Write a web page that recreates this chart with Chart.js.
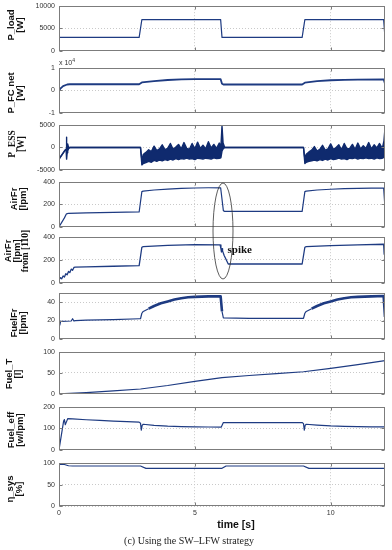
<!DOCTYPE html>
<html><head><meta charset="utf-8">
<script src="https://cdn.jsdelivr.net/npm/chart.js@4.4.0/dist/chart.umd.min.js"></script>
<style>
html,body{margin:0;padding:0;background:#fff;}
body{width:392px;height:550px;position:relative;overflow:hidden;}
canvas{position:absolute;left:0;}
.yl{position:absolute;transform:translate(-50%,-50%) rotate(-90deg);font:bold 9.5px "Liberation Sans",Arial,sans-serif;line-height:8.5px;text-align:center;white-space:nowrap;color:#111;}
.serif{font-family:"Liberation Serif","Times New Roman",serif;}
.txt{position:absolute;white-space:nowrap;color:#111;}
svg{position:absolute;left:0;top:0;pointer-events:none;}
</style></head><body>
<div class="yl" style="left:14.5px;top:25px">P_load<br>[W]</div>
<div class="yl" style="left:14.5px;top:93px">P_FC net<br>[W]</div>
<div class="yl serif" style="left:16px;top:144px">P_ESS<br>[W]</div>
<div class="yl" style="left:17.5px;top:199px">AirFr<br>[lpm]</div>
<div class="yl" style="left:16.5px;top:251px">AirFr<br>[lpm]<br><span class="serif">from [110]</span></div>
<div class="yl" style="left:17.5px;top:323px">FuelFr<br>[lpm]</div>
<div class="yl" style="left:13px;top:374px">Fuel_T<br>[l]</div>
<div class="yl" style="left:15px;top:430px">Fuel_eff<br>[w/lpm]</div>
<div class="yl" style="left:13.5px;top:489px">η_sys<br>[%]</div>
<div class="txt" style="left:59px;top:57px;font:7px 'Liberation Sans',Arial,sans-serif;color:#333">x 10<sup style="font-size:5px">4</sup></div>
<div class="txt" style="left:236px;top:524px;transform:translate(-50%,-50%);font:bold 10.5px 'Liberation Sans',Arial,sans-serif">time [s]</div>
<div class="txt" style="left:189px;top:540px;transform:translate(-50%,-50%);font:10px 'Liberation Serif','Times New Roman',serif;color:#222">(c) Using the SW–LFW strategy</div>
<script>
// ---------- data ----------
const timeTicks = [0, 5, 10];

const loadT = [0, 2.95, 3.05, 5.95, 6.0, 8.95, 9.05, 11.95, 12.0];
const loadV = [3000, 3000, 7000, 7000, 3000, 3000, 7000, 7000, 3000];
const loadTicks = [0, 5000, 10000];

const fcT = [0, 0.05, 0.15, 0.3, 0.4, 2.95, 3.05, 3.5, 4.0, 4.5, 5.0, 5.95, 6.0, 6.05, 8.95, 9.05, 9.5, 10.0, 10.5, 11.0, 11.95, 12.0];
const fcV = [0.0, 0.08, 0.2, 0.27, 0.28, 0.28, 0.36, 0.42, 0.47, 0.50, 0.51, 0.51, 0.30, 0.27, 0.27, 0.35, 0.42, 0.46, 0.48, 0.49, 0.50, 0.30];
const fcTicks = [-1, 0, 1];

const essT = [
  0, 0.1, 0.2, 0.26, 0.27, 0.28, 0.29, 0.3, 0.32, 0.35, 0.4, 2.97,
  3.0, 3.05, 3.1, 3.2, 3.3, 3.4, 3.5, 3.6, 3.7, 3.8, 3.9, 4.0, 4.1, 4.2, 4.3, 4.4, 4.5, 4.6, 4.7, 4.8, 4.9, 5.0, 5.1, 5.2, 5.3, 5.4, 5.5, 5.6, 5.7, 5.8, 5.9, 5.96,
  6.0, 6.04, 6.1, 8.97,
  9.0, 9.05, 9.1, 9.2, 9.3, 9.4, 9.5, 9.6, 9.7, 9.8, 9.9, 10.0, 10.1, 10.2, 10.3, 10.4, 10.5, 10.6, 10.7, 10.8, 10.9, 11.0, 11.1, 11.2, 11.3, 11.4, 11.5, 11.6, 11.7, 11.8, 11.9, 11.96,
  12.0];
const essHi = [
  -2600, -1700, -800, -400, 1800, 2300, 600, -200, 800, 0, 0, 0,
  0, -2800, -1600, -1100, -500, -900, 300, -700, -300, 600, -500, -200, 900, -400, 100, 700, -300, 1100, -200, -400, 900, -300, 1200, -200, 500, -300, 1300, -100, 700, -200, 1000, 200,
  4800, 1000, 0, 0,
  0, -2500, -1500, -1000, -600, 200, -800, -400, 500, -600, -300, 800, -400, 0, 600, -500, 900, -300, -200, 700, -400, 1000, -300, 400, -200, 1100, -300, 600, -100, 900, -200, 1400,
  4300];
const essLo = [
  -2600, -1700, -800, -400, -2400, -2200, -2600, -1200, -800, -300, 0, 0,
  0, -3900, -3600, -3400, -3100, -3300, -2900, -3100, -2800, -3000, -2700, -2900, -2600, -2800, -2500, -2700, -2500, -2600, -2400, -2600, -2500, -2700, -2400, -2500, -2600, -2400, -2500, -2600, -2300, -2500, -2400, -2300,
  -800, -300, 0, 0,
  0, -3600, -3300, -3100, -3000, -2800, -3000, -2700, -2900, -2600, -2800, -2500, -2700, -2600, -2400, -2600, -2500, -2700, -2400, -2500, -2300, -2600, -2400, -2500, -2300, -2500, -2400, -2600, -2300, -2500, -2400, -2200,
  -1200];
const essTicks = [-5000, 0, 5000];

const airT = [0, 0.1, 0.2, 0.27, 0.3, 0.35, 1, 2, 2.95, 3.05, 3.1, 3.5, 4, 4.5, 5, 5.5, 5.95, 6.05, 6.1, 7, 8, 8.95, 9.05, 9.1, 9.5, 10, 10.5, 11, 11.5, 11.95, 12];
const airV = [0, 40, 80, 115, 118, 120, 124, 130, 133, 315, 320, 330, 338, 344, 348, 350, 350, 145, 138, 138, 138, 138, 315, 320, 330, 337, 342, 345, 347, 348, 170];
const airTicks = [0, 200, 400];

const air2T = [0, 0.05, 0.1, 0.15, 0.2, 0.25, 0.3, 0.35, 0.4, 0.45, 0.5, 0.55, 0.6, 1, 2, 2.95, 3.05, 3.1, 4, 5, 5.93, 5.96, 5.98, 6.0, 6.02, 6.08, 6.23, 7, 8, 8.95, 9.05, 9.1, 10, 11, 11.95, 11.97, 12];
const air2V = [25, 45, 35, 60, 50, 80, 70, 100, 90, 120, 110, 135, 138, 140, 145, 150, 312, 318, 328, 335, 332, 300, 270, 300, 280, 240, 165, 165, 165, 165, 312, 318, 326, 333, 338, 250, 290];

const fuelT = [0, 0.03, 0.06, 0.1, 0.45, 0.5, 0.55, 0.6, 1, 2, 2.95, 3.0, 3.05, 3.1, 3.3, 3.5, 3.75, 4.0, 4.25, 4.5, 4.75, 5.0, 5.5, 5.95, 6.0, 6.05, 7, 8, 8.95, 9.0, 9.05, 9.1, 9.3, 9.5, 9.75, 10, 10.25, 10.5, 10.75, 11, 11.5, 11.95, 12];
const fuelV = [20, 15, 19, 19, 19.5, 22, 19.5, 20, 20.5, 21, 22, 22, 28, 30, 33, 36, 39, 41, 43, 44.5, 45.5, 46, 46.5, 46.5, 30, 23, 22.5, 22.5, 22.5, 22.5, 28, 30, 33, 36, 39, 41, 43, 44.5, 45.5, 46, 46.5, 47, 24];
const fuelTicks = [0, 20, 40];

const ftT = [0, 1, 2, 3, 4, 5, 6, 7, 8, 9, 10, 11, 12];
const ftV = [0, 3, 7, 11.5, 20, 30, 39, 44, 48.5, 53, 61, 70, 80];
const ftTicks = [0, 50, 100];

const effT = [0, 0.17, 0.2, 0.23, 0.27, 0.32, 0.5, 1, 1.5, 2, 2.5, 2.95, 3.0, 3.03, 3.06, 3.1, 3.5, 4, 4.5, 5, 5.5, 5.97, 6.05, 7, 8, 8.95, 9.0, 9.03, 9.06, 9.1, 9.5, 10, 10.5, 11, 11.5, 12];
const effV = [0, 135, 142, 118, 130, 146, 145, 141, 138, 135, 132, 130, 125, 92, 115, 120, 115, 111, 109, 108, 107, 106, 128, 128, 128, 128, 123, 92, 115, 120, 116, 112, 110, 109, 108, 108];
const effTicks = [0, 100, 200];

const etaT = [0, 0.001, 0.2, 0.35, 0.5, 3.0, 3.2, 6.0, 6.15, 9.0, 9.2, 12];
const etaV = [0, 97, 97, 94, 93.5, 93.5, 88, 88, 93.5, 93.5, 88, 88];
const etaTicks = [0, 50, 100];

// ---------- drawing ----------
const NAVY = '#1e3b82';
const DARK = '#0f2a6e';
const FONT = "'Liberation Sans', Arial, sans-serif";
function pts(t, v) { return t.map((x, i) => ({ x: x, y: v[i] })); }
function line(t, v, w, extra) { return Object.assign({ data: pts(t, v), borderColor: NAVY, borderWidth: w || 1.2, fill: false }, extra || {}); }

const framePlugin = {
  id: 'frame',
  afterDraw(chart) {
    const { ctx, chartArea: a, scales: { x, y } } = chart;
    ctx.save();
    ctx.strokeStyle = '#7c7c7c'; ctx.lineWidth = 1;
    const L = Math.round(a.left) + 0.5, T = Math.round(a.top) + 0.5, R = Math.round(a.right) - 0.5, B = Math.round(a.bottom) - 0.5;
    ctx.strokeRect(L, T, R - L, B - T);
    ctx.beginPath();
    y.ticks.forEach(t => { const py = Math.round(y.getPixelForValue(t.value)) + 0.5; ctx.moveTo(L, py); ctx.lineTo(L + 3, py); ctx.moveTo(R, py); ctx.lineTo(R - 3, py); });
    x.ticks.forEach(t => { const px = Math.round(x.getPixelForValue(t.value)) + 0.5; ctx.moveTo(px, T); ctx.lineTo(px, T + 3); ctx.moveTo(px, B); ctx.lineTo(px, B - 3); });
    ctx.stroke(); ctx.restore();
  }
};

function panel(top, bottom, datasets, ymin, ymax, yticks, last) {
  const c = document.createElement('canvas');
  const padT = 8, padB = last ? 0 : 8, xh = last ? 14 : 0;
  const h = (bottom - top) + padT + padB + xh;
  c.width = 392; c.height = h; c.style.top = (top - padT) + 'px';
  document.body.insertBefore(c, document.body.firstChild);
  const gridCfg = { color: '#c9c9c9', lineWidth: 1, drawTicks: false };
  new Chart(c, {
    type: 'line',
    data: { datasets: datasets },
    options: {
      responsive: false, animation: false, events: [],
      layout: { padding: { left: 0, right: 7, top: padT, bottom: padB } },
      plugins: { legend: { display: false }, tooltip: { enabled: false } },
      elements: { point: { radius: 0 }, line: { tension: 0, borderJoinStyle: 'round' } },
      scales: {
        x: {
          type: 'linear', min: 0, max: 12,
          afterBuildTicks: s => { s.ticks = timeTicks.map(v => ({ value: v })); },
          afterFit: s => { s.height = xh; },
          grid: gridCfg, border: { display: false, dash: [1, 2] },
          ticks: { display: !!last, font: { size: 7, family: FONT }, color: '#333', padding: 3, maxRotation: 0, callback: v => String(v) }
        },
        y: {
          min: ymin, max: ymax,
          afterBuildTicks: s => { s.ticks = yticks.map(v => ({ value: v })); },
          afterFit: s => { s.width = 59; },
          grid: gridCfg, border: { display: false, dash: [1, 2] },
          ticks: { font: { size: 7, family: FONT }, color: '#333', padding: 4, callback: v => String(v) }
        }
      }
    },
    plugins: [framePlugin]
  });
}

const noisy = ctx => {
  const x = ctx.p0.parsed.x;
  return ((x >= 3.3 && x < 5.97) || (x >= 9.3 && x < 11.97)) ? 2.6 : 1.2;
};

panel(6, 51, [line(loadT, loadV, 1.2)], 0, 10000, loadTicks);
panel(68, 113, [line(fcT, fcV, 1.8)], -1, 1, fcTicks);
panel(125, 170, [
  line(essT, essHi, 1.4, { borderColor: DARK }),
  line(essT, essLo, 1.4, { borderColor: DARK, fill: '-1', backgroundColor: DARK })
], -5000, 5000, essTicks);
panel(182, 227, [line(airT, airV, 1.2)], 0, 400, airTicks);
panel(237, 283, [line(air2T, air2V, 1.3)], 0, 400, airTicks);
panel(293, 339, [line(fuelT, fuelV, 1.2, { segment: { borderWidth: noisy } })], 0, 50, fuelTicks);
panel(352, 394, [line(ftT, ftV, 1.2)], 0, 100, ftTicks);
panel(407, 450, [line(effT, effV, 1.2)], 0, 200, effTicks);
panel(463, 506, [line(etaT, etaV, 1.2)], 0, 100, etaTicks, true);
</script>
<svg width="392" height="550" viewBox="0 0 392 550">
  <ellipse cx="223" cy="231" rx="10" ry="48" fill="none" stroke="#333" stroke-width="0.8"/>
  <text x="227.5" y="252.5" font-family="Liberation Serif, Times New Roman, serif" font-weight="bold" font-size="11" fill="#111">spike</text>
</svg>
</body></html>
